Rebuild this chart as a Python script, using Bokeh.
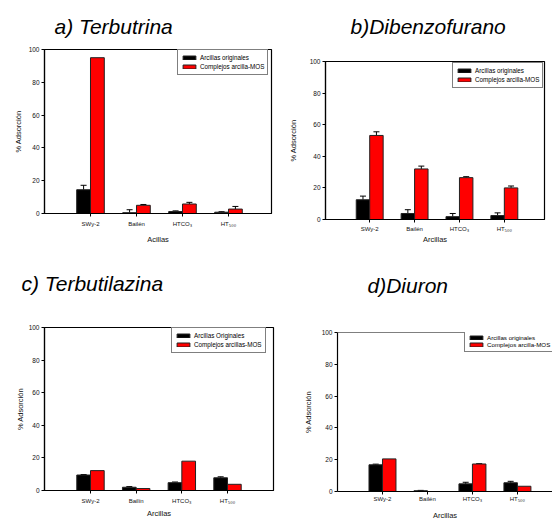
from bokeh.plotting import figure
from bokeh.models import (ColumnDataSource, Whisker, TeeHead, Range1d, FixedTicker,
                          Legend, LegendItem, Span, Title)
from bokeh.layouts import column, row
from bokeh.embed import file_html
from bokeh.resources import INLINE

# ---------------- data ----------------
clays_abd = ["SWy-2", "Bailén", "HTCO₃", "HT₅₀₀"]
clays_c = ["SWy-2", "Bailín", "HTCO₃", "HT₅₀₀"]
positions = [1, 2, 3, 4]
y_ticks = [0, 20, 40, 60, 80, 100]

# a) Terbutrina
terbutrina_orig = [14.5, 0.5, 1.2, 0.8]
terbutrina_orig_err = [2.7, 1.8, 0.4, 0.3]
terbutrina_mos = [95.0, 5.0, 5.8, 2.7]
terbutrina_mos_err = [0.0, 0.5, 1.0, 1.6]

# b) Dibenzofurano
dibenzofurano_orig = [12.5, 3.8, 1.8, 2.5]
dibenzofurano_orig_err = [2.3, 2.4, 2.0, 1.7]
dibenzofurano_mos = [53.2, 32.0, 26.5, 20.0]
dibenzofurano_mos_err = [2.3, 1.8, 0.6, 1.2]

# c) Terbutilazina
terbutilazina_orig = [9.5, 2.0, 4.8, 7.8]
terbutilazina_orig_err = [0.3, 0.4, 0.4, 0.6]
terbutilazina_mos = [12.2, 1.2, 18.0, 3.8]
terbutilazina_mos_err = [0.0, 0.0, 0.0, 0.0]

# d) Diuron
diuron_orig = [16.8, 0.5, 4.8, 5.5]
diuron_orig_err = [0.4, 0.2, 1.0, 0.9]
diuron_mos = [20.5, 0.0, 17.3, 3.3]
diuron_mos_err = [0.0, 0.0, 0.2, 0.0]

FONT = "Liberation Sans"
BAR_W = 0.3


def panel(title, clays, orig, orig_err, mos, mos_err, leg_labels, xlabel,
          width, height, borders, xr, title_offset, title_standoff, spacer,
          legend_loc, ylab_standoff, xtick_standoff, xlab_standoff,
          legend_font="6.3px", legend_pitch=9, outline=True):
    left, right, bottom = borders
    p = figure(width=width, height=height, output_backend="svg",
               toolbar_location=None, x_range=Range1d(*xr), y_range=Range1d(0, 100),
               min_border_left=left, min_border_right=right,
               min_border_top=0, min_border_bottom=bottom,
               title=title)
    if "frame_align" in p.properties():
        p.frame_align = False
    p.title.text_font = FONT
    p.title.text_font_size = "21px"
    p.title.text_font_style = "italic"
    p.title.text_color = "black"
    p.title.align = "left"
    p.title.offset = title_offset
    p.title.standoff = title_standoff
    if spacer > 0:
        p.add_layout(Title(text=" ", text_font_size="2px", standoff=spacer,
                           text_color="white"), "above")

    p.xgrid.visible = False
    p.ygrid.visible = False
    p.background_fill_color = "white"
    p.border_fill_color = "white"
    if outline:
        p.outline_line_color = "black"
        p.outline_line_width = 1.2
    else:
        p.outline_line_color = None
        p.add_layout(Span(location=100, dimension="width", line_color="black", line_width=1.2))

    xb = [c - BAR_W / 2 for c in positions]
    xr_ = [c + BAR_W / 2 for c in positions]
    src_o = ColumnDataSource(dict(x=xb, top=orig))
    src_m = ColumnDataSource(dict(x=xr_, top=mos))
    r_o = p.vbar(x="x", top="top", width=BAR_W, source=src_o, fill_color="black",
                 line_color="#222222", line_width=1)
    r_m = p.vbar(x="x", top="top", width=BAR_W, source=src_m, fill_color="#FF0000",
                 line_color="#222222", line_width=1)

    for xs, vals, errs in ((xb, orig, orig_err), (xr_, mos, mos_err)):
        keep = [i for i, e in enumerate(errs) if e > 0]
        if not keep:
            continue
        s = ColumnDataSource(dict(x=[xs[i] for i in keep],
                                  lower=[vals[i] for i in keep],
                                  upper=[vals[i] + errs[i] for i in keep]))
        p.add_layout(Whisker(base="x", lower="lower", upper="upper", source=s,
                             line_color="black", line_width=1, lower_head=None,
                             upper_head=TeeHead(size=6, line_color="black", line_width=1)))

    legend = Legend(items=[LegendItem(label=leg_labels[0], renderers=[r_o]),
                           LegendItem(label=leg_labels[1], renderers=[r_m])],
                    location=legend_loc, orientation="vertical",
                    glyph_width=16, glyph_height=5, label_height=legend_pitch,
                    label_standoff=3, spacing=0, padding=3, margin=0,
                    label_text_font=FONT, label_text_font_size=legend_font,
                    label_text_color="black",
                    border_line_color="black", border_line_width=1.5,
                    background_fill_color="white", background_fill_alpha=1)
    p.add_layout(legend)

    # axes
    for ax in (p.xaxis[0], p.yaxis[0]):
        ax.axis_line_color = "black"
        ax.axis_line_width = 1.2
        ax.major_tick_line_color = "black"
        ax.major_tick_out = 3
        ax.major_tick_in = 0
        ax.minor_tick_line_color = None
        ax.major_label_text_font = FONT
        ax.major_label_text_color = "#111111"
        ax.axis_label_text_font = FONT
        ax.axis_label_text_font_style = "normal"
        ax.axis_label_text_font_size = "7.5px"
        ax.axis_label_text_color = "#111111"

    p.yaxis.ticker = FixedTicker(ticks=y_ticks)
    p.yaxis.major_label_text_font_size = "6.5px"
    p.yaxis.major_label_standoff = 2
    p.yaxis.axis_label = "% Adsorción"
    p.yaxis.axis_label_standoff = ylab_standoff

    p.xaxis.ticker = FixedTicker(ticks=positions)
    p.xaxis.major_label_overrides = {c: lab for c, lab in zip(positions, clays)}
    p.xaxis.major_label_text_font_size = "6px"
    p.xaxis.major_label_standoff = xtick_standoff
    p.xaxis.axis_label = xlabel
    p.xaxis.axis_label_standoff = xlab_standoff
    return p


W = 276
H1 = 266
H2 = 256

pa = panel("a) Terbutrina", clays_abd, terbutrina_orig, terbutrina_orig_err,
           terbutrina_mos, terbutrina_mos_err,
           ["Arcillas originales", "Complejos arcilla-MOS"], "Acillas",
           W, H1, (44, 5, 53), (0.0, 4.935), 10, 24, 0,
           (133, 138), 3, 4, 5)

pb = panel("b)Dibenzofurano", clays_abd, dibenzofurano_orig, dibenzofurano_orig_err,
           dibenzofurano_mos, dibenzofurano_mos_err,
           ["Arcillas originales", "Complejos arcilla-MOS"], "Arcillas",
           W, H1, (49, 8, 47), (0.015, 4.895), 25, 24, 8,
           (127, 131), 9, 3, 0)

pc = panel("c) Terbutilazina", clays_c, terbutilazina_orig, terbutilazina_orig_err,
           terbutilazina_mos, terbutilazina_mos_err,
           ["Arcillas Originales", "Complejos arcillas-MOS"], "Arcillas",
           W, H2, (44, 3, 32), (-0.007, 5.007), -23, 6, 26,
           (127, 137), 1, 4, 2)

pd_ = panel("d)Diuron", clays_abd, diuron_orig, diuron_orig_err,
            diuron_mos, diuron_mos_err,
            ["Arcillas originales", "Complejos arcilla-MOS"], "Arcillas",
            W, H2, (61, 0, 28), (0.0, 4.78), 30, 10, 27,
            (127, 139), 6, 1, 6, legend_font="6.2px", legend_pitch=7, outline=False)

layout = column(row(pa, pb), row(pc, pd_))

with open("out.html", "w") as f:
    f.write(file_html(layout, INLINE))
